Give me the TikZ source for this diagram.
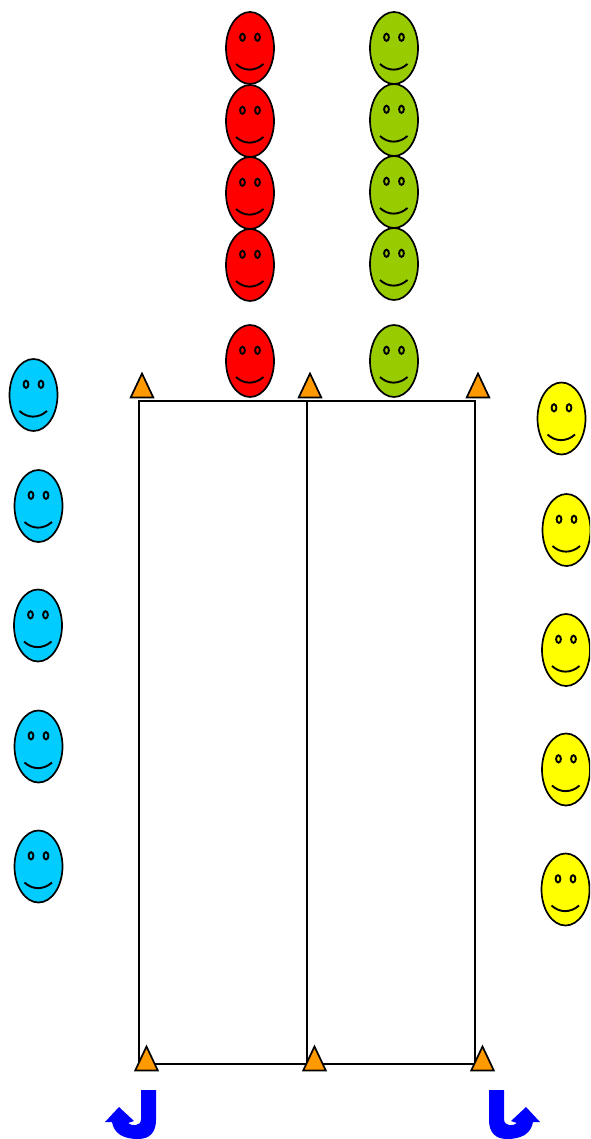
\documentclass[tikz,border=0pt]{standalone}
\definecolor{facered}{RGB}{255,0,0}
\definecolor{facegreen}{RGB}{153,204,0}
\definecolor{faceblue}{RGB}{0,204,255}
\definecolor{faceyellow}{RGB}{255,255,0}
\definecolor{coneorange}{RGB}{255,153,0}
\definecolor{turnblue}{RGB}{0,0,255}
\tikzset{
  x=1pt,y=-1pt,
  facebody/.style={draw=black,line width=1.7pt},
  facefeature/.style={draw=black,line width=1.9pt},
  conemark/.style={draw=black,fill=coneorange,line width=1.7pt,line join=miter},
  court/.style={draw=black,line width=2pt},
  turn/.style={fill=turnblue,draw=none},
}
\newcommand{\smiley}[3]{%
  \begin{scope}[shift={(#1,#2)}]
    \path[facebody,fill=#3] (0,0) ellipse [x radius=24,y radius=36];
    \path[facefeature] (-7.5,-10.7) ellipse [x radius=2.4,y radius=3.6];
    \path[facefeature] (7.5,-10.7) ellipse [x radius=2.4,y radius=3.6];
    \path[facefeature] (-14,16) .. controls (-6,23.5) and (5,23.5) .. (13.5,16);
  \end{scope}}
\newcommand{\conemk}[2]{%
  \path[conemark] (#1,#2+0.5) -- (#1-11.3,#2+24.5) -- (#1+11.3,#2+24.5) -- cycle;}
\begin{document}
\begin{tikzpicture}
\useasboundingbox (0,0) rectangle (590,1139);
\clip (0,0) rectangle (590,1139);
% court
\draw[court] (139,401) rectangle (475,1064);
\draw[court] (307,401) -- (307,1064);
% red
\smiley{250}{48}{facered}
\smiley{250}{121}{facered}
\smiley{250}{193}{facered}
\smiley{250}{265}{facered}
\smiley{250}{361}{facered}
% green
\smiley{394}{48}{facegreen}
\smiley{394}{120}{facegreen}
\smiley{394}{192}{facegreen}
\smiley{394}{264}{facegreen}
\smiley{394}{361}{facegreen}
% blue
\smiley{33.5}{395}{faceblue}
\smiley{38.5}{506}{faceblue}
\smiley{38}{625.5}{faceblue}
\smiley{38.5}{746.5}{faceblue}
\smiley{38.5}{866.5}{faceblue}
% yellow
\smiley{561.5}{418.5}{faceyellow}
\smiley{566.5}{530}{faceyellow}
\smiley{566}{650}{faceyellow}
\smiley{566}{769.5}{faceyellow}
\smiley{565.5}{889.5}{faceyellow}
% cones
\conemk{142}{373}
\conemk{310}{373}
\conemk{478}{373}
\conemk{146.5}{1046}
\conemk{314.5}{1046}
\conemk{482.5}{1046}
% turn arrows
\path[turn] (141,1090) -- (156,1090) -- (156,1120)
  .. controls (156,1132) and (150,1139) .. (138,1139)
  .. controls (124,1139) and (114,1134) .. (112,1122)
  -- (105,1122) -- (119,1107) -- (134,1121) -- (128,1123)
  .. controls (131,1126) and (141,1127) .. (141,1119) -- cycle;
\path[turn,xshift=645pt,xscale=-1] (141,1090) -- (156,1090) -- (156,1120)
  .. controls (156,1132) and (150,1139) .. (138,1139)
  .. controls (124,1139) and (114,1134) .. (112,1122)
  -- (105,1122) -- (119,1107) -- (134,1121) -- (128,1123)
  .. controls (131,1126) and (141,1127) .. (141,1119) -- cycle;
\end{tikzpicture}
\end{document}
